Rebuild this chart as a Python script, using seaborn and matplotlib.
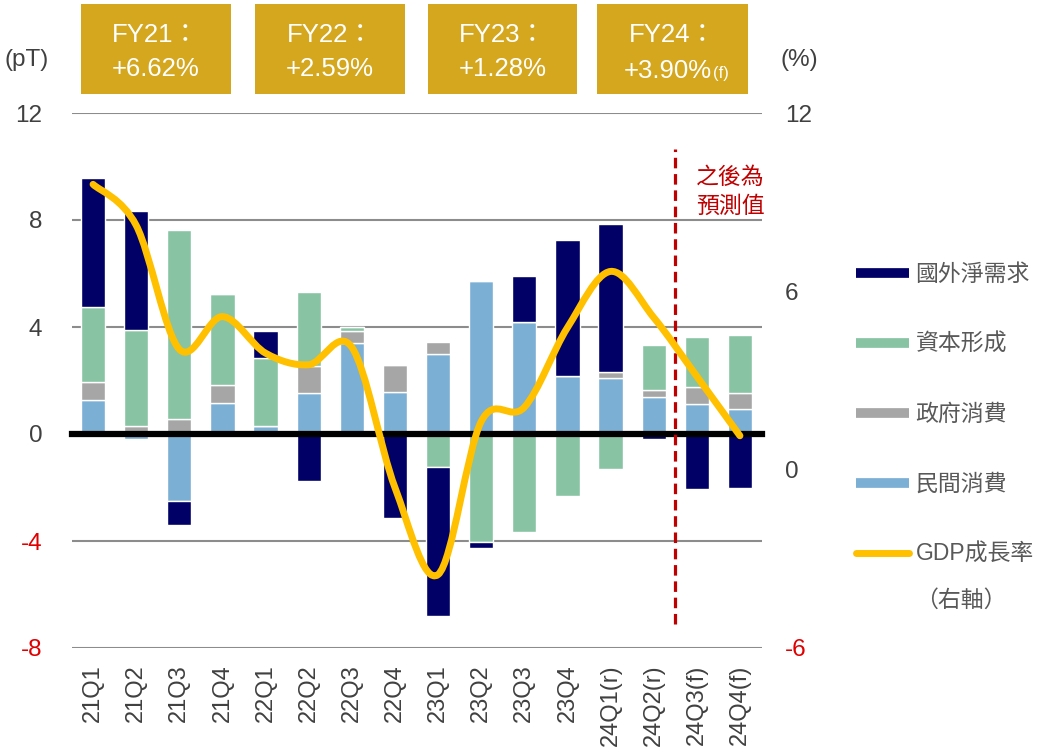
import numpy as np
import pandas as pd
import matplotlib
matplotlib.use("Agg")
import matplotlib.pyplot as plt
import seaborn as sns
from matplotlib.path import Path
from matplotlib.patches import PathPatch, Rectangle
from matplotlib.lines import Line2D

# ---------------- data ----------------
quarters = ['21Q1', '21Q2', '21Q3', '21Q4', '22Q1', '22Q2', '22Q3', '22Q4',
            '23Q1', '23Q2', '23Q3', '23Q4', '24Q1(r)', '24Q2(r)', '24Q3(f)', '24Q4(f)']
private_cons = [1.28, -0.20, -2.49, 1.15, 0.31, 1.52, 3.39, 1.56,
                3.00, 5.73, 4.17, 2.18, 2.10, 1.37, 1.12, 0.93]
gov_cons = [0.65, 0.30, 0.56, 0.68, 0.00, 1.01, 0.45, 1.03,
            0.45, 0.00, 0.00, 0.00, 0.20, 0.26, 0.63, 0.60]
capital_form = [2.81, 3.59, 7.08, 3.40, 2.53, 2.79, 0.15, 0.00,
                -1.25, -4.04, -3.65, -2.31, -1.31, 1.71, 1.89, 2.17]
net_external = [4.83, 4.46, -0.91, 0.00, 1.00, -1.75, 0.00, -3.15,
                -5.57, -0.21, 1.72, 5.07, 5.54, -0.19, -2.06, -2.03]
gdp_growth = [9.60, 8.22, 4.05, 5.15, 3.92, 3.53, 4.12, -0.60,
              -3.53, 1.62, 2.10, 4.78, 6.67, 5.12, 3.14, 1.14]

series_names = ['民間消費', '政府消費', '資本形成', '國外淨需求']
series_colors = ['#7BAFD4', '#A6A6A6', '#88C4A4', '#000066']
series_values = [private_cons, gov_cons, capital_form, net_external]

fy_labels = ['FY21：', 'FY22：', 'FY23：', 'FY24：']
fy_values = ['+6.62%', '+2.59%', '+1.28%', '+3.90%']
fy_notes = ['', '', '', '(f)']

left_ticks = [-8, -4, 0, 4, 8, 12]
right_ticks = [-6, 0, 6, 12]

# ---------------- style ----------------
sns.set_style("white")
plt.rcParams['font.family'] = ['Liberation Sans', 'Noto Sans CJK TC', 'DejaVu Sans']

W, H = 1043, 750
fig = plt.figure(figsize=(W / 100, H / 100), dpi=100)
ax = fig.add_axes([71.5 / W, 1 - 648 / H, 690 / W, 535 / H])

n = len(quarters)
TXT = '#404040'
RED = '#E00000'

pos_base = np.zeros(n)
neg_base = np.zeros(n)
for name, vals, col in zip(series_names, series_values, series_colors):
    v = np.array(vals, dtype=float)
    bottom = np.where(v >= 0, pos_base, neg_base)
    df = pd.DataFrame({'q': quarters, 'v': v})
    sns.barplot(data=df, x='q', y='v', order=quarters, bottom=bottom,
                color=col, saturation=1, width=0.56, errorbar=None,
                edgecolor='white', linewidth=1.0, ax=ax)
    pos_base += np.clip(v, 0, None)
    neg_base += np.clip(v, None, 0)

ax.set_xlim(-0.5, n - 0.5)
ax.set_ylim(-8, 12)
ax.set_yticks(left_ticks)
ax.set_yticklabels([str(t) for t in left_ticks], fontsize=17.5)
for lab, t in zip(ax.get_yticklabels(), left_ticks):
    lab.set_color(RED if t < 0 else TXT)
ax.tick_params(axis='y', length=0, pad=21)
ax.set_axisbelow(True)
ax.yaxis.grid(True, color='#8C8C8C', lw=1.5)
ax.xaxis.grid(False)
ax.set_xlabel('')
ax.set_ylabel('')

for s in ['left', 'right', 'top']:
    ax.spines[s].set_visible(False)
ax.spines['bottom'].set_position(('data', 0))
ax.spines['bottom'].set_linewidth(4.5)
ax.spines['bottom'].set_color('black')
ax.spines['bottom'].set_zorder(3)

ax.set_xticks(range(n))
ax.set_xticklabels(quarters, rotation=90, fontsize=17, color=TXT)
ax.set_xticks(np.arange(n + 1) - 0.5, minor=True)
ax.tick_params(axis='x', which='major', length=0, pad=166)
ax.tick_params(axis='x', which='minor', length=5, width=3.5, color='black', direction='out')

# forecast divider
n_actual = sum(1 for q in quarters if '(f)' not in q)
ax.vlines(n_actual - 0.5, -7.1, 10.65, colors='#C00000', lw=2.3,
          linestyles=[(0, (3.3, 1.8))], zorder=4)
ax.text(n_actual + 0.77, 9.05, '之後為\n預測值', color='#C00000', fontsize=16.5,
        ha='center', va='center', linespacing=1.32, zorder=5)

# GDP line on right axis (smoothed, through the data points)
ax2 = ax.twinx()
ax2.set_ylim(-6, 12)
ax2.set_yticks(right_ticks)
ax2.set_yticklabels([str(t) for t in right_ticks], fontsize=17.5)
for lab, t in zip(ax2.get_yticklabels(), right_ticks):
    lab.set_color(RED if t < 0 else TXT)
ax2.tick_params(axis='y', length=0, pad=17)
ax2.grid(False)
for s in ax2.spines.values():
    s.set_visible(False)

pts = np.column_stack([np.arange(n, dtype=float), np.array(gdp_growth, dtype=float)])
verts = [tuple(pts[0])]
codes = [Path.MOVETO]
for i in range(n - 1):
    p0 = pts[max(i - 1, 0)]
    p1 = pts[i]
    p2 = pts[i + 1]
    p3 = pts[min(i + 2, n - 1)]
    c1 = p1 + (p2 - p0) / 6.0
    c2 = p2 - (p3 - p1) / 6.0
    verts += [tuple(c1), tuple(c2), tuple(p2)]
    codes += [Path.CURVE4] * 3
ax2.add_patch(PathPatch(Path(verts, codes), fill=False, edgecolor='#FFC000', lw=5,
                        capstyle='round', joinstyle='round', zorder=6))

# unit labels
fig.text(5 / W, 1 - 60 / H, '(pT)', fontsize=17.5, color=TXT, ha='left', va='center')
fig.text(780 / W, 1 - 60 / H, '(%)', fontsize=17.5, color=TXT, ha='left', va='center')

# FY boxes
box_x = [(81, 231), (255, 405), (428, 577), (597, 748)]
for (x0, x1), lab, val, note in zip(box_x, fy_labels, fy_values, fy_notes):
    fig.patches.append(Rectangle((x0 / W, 1 - 94 / H), (x1 - x0) / W, 90 / H,
                                 transform=fig.transFigure, facecolor='#D4A71E',
                                 edgecolor='none', zorder=0))
    cx = (x0 + x1) / 2
    fig.text(cx / W, 1 - 35 / H, lab, fontsize=18.5, color='white', ha='center', va='center')
    if note:
        fig.text((cx + 39) / W, 1 - 78 / H, val, fontsize=18.5, color='white', ha='right', va='baseline')
        fig.text((cx + 40) / W, 1 - 78 / H, note, fontsize=12, color='white', ha='left', va='baseline')
    else:
        fig.text(cx / W, 1 - 69 / H, val, fontsize=18.5, color='white', ha='center', va='center')

# legend
handles = [Line2D([], [], color=c, lw=7, solid_capstyle='butt')
           for c in series_colors[::-1]]
handles.append(Line2D([], [], color='#FFC000', lw=5, solid_capstyle='round'))
labels = series_names[::-1] + ['GDP成長率']
leg = fig.legend(handles, labels, loc='upper left', bbox_to_anchor=(856 / W, 1 - 263 / H),
                 frameon=False, fontsize=16.5, handlelength=2.3, handletextpad=0.3,
                 labelspacing=2.05, borderpad=0, borderaxespad=0)
for t in leg.get_texts():
    t.set_color('#595959')
fig.text(915 / W, 1 - 600 / H, '（右軸）', fontsize=16.5, color='#595959', ha='left', va='center')

fig.savefig('out.png', dpi=100)
